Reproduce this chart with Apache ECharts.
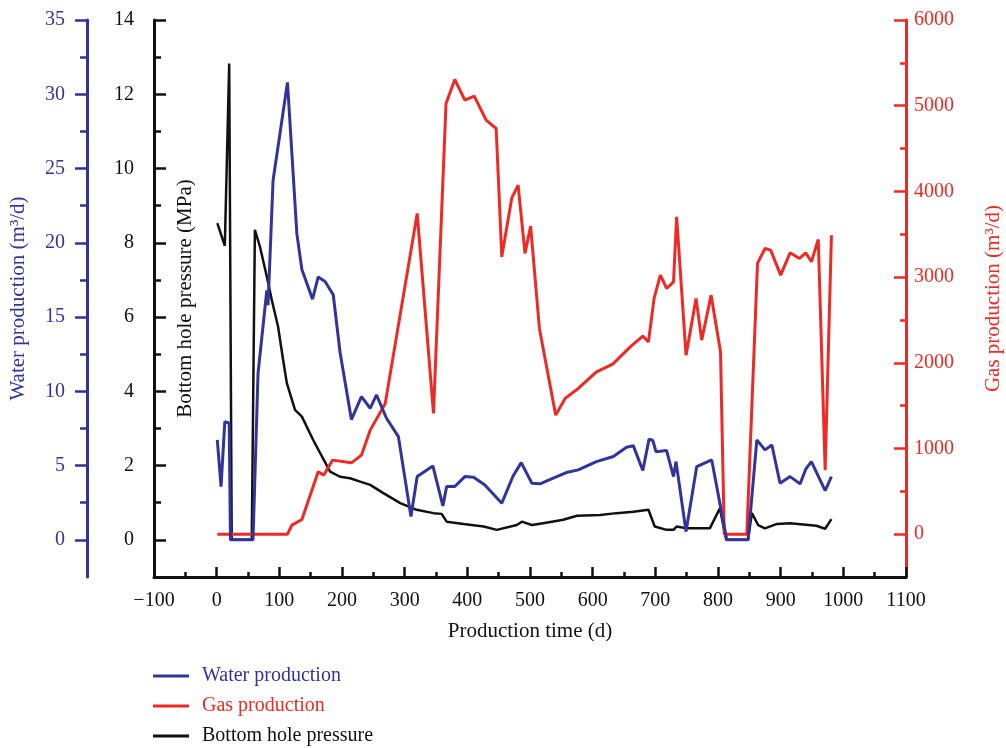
<!DOCTYPE html>
<html>
<head>
<meta charset="utf-8">
<script src="https://cdn.jsdelivr.net/npm/echarts@6/dist/echarts.min.js"></script>
<style>
  html, body { margin: 0; padding: 0; background: #ffffff; }
  #chart { width: 1006px; height: 748px; }
</style>
</head>
<body>
<div id="chart"></div>
<script>
// Production history of the well: water, gas and bottom hole pressure vs. time (d)
const waterDays   = [1, 7, 13, 20, 22, 58, 66, 80, 82, 90, 113, 128, 136, 153, 162, 173, 186, 197, 215, 231, 245, 255, 271, 290, 310, 320, 345, 361, 367, 380, 396, 410, 428, 455, 473, 486, 503, 516, 537, 558, 577, 606, 633, 654, 665, 680, 690, 696, 701, 718, 729, 733, 749, 766, 790, 814, 848, 862, 875, 886, 899, 915, 931, 940, 949, 971, 981];
const waterValues = [6.73, 3.59, 7.96, 7.85, 0, 0, 11.2, 16.8, 15.8, 24.2, 30.8, 20.6, 18.2, 16.2, 17.7, 17.4, 16.5, 12.6, 8.1, 9.65, 8.86, 9.76, 8.19, 6.95, 1.57, 4.26, 4.98, 2.29, 3.59, 3.59, 4.26, 4.22, 3.7, 2.47, 4.3, 5.2, 3.81, 3.77, 4.15, 4.53, 4.71, 5.27, 5.61, 6.24, 6.33, 4.67, 6.78, 6.69, 5.94, 6.01, 4.26, 5.27, 0.56, 4.93, 5.38, 0, 0, 6.73, 6.06, 6.39, 3.81, 4.26, 3.77, 4.76, 5.27, 3.32, 4.26];

const gasDays   = [1, 113, 120, 136, 162, 171, 185, 215, 231, 245, 269, 320, 346, 366, 380, 396, 411, 430, 446, 455, 471, 481, 492, 501, 515, 541, 556, 577, 606, 632, 660, 680, 689, 698, 708, 718, 729, 734, 749, 765, 774, 789, 804, 810, 846, 863, 875, 884, 900, 915, 930, 940, 949, 960, 971, 981];
const gasValues = [0, 0, 105, 171, 727, 689, 864, 832, 922, 1214, 1525, 3743, 1409, 5026, 5306, 5065, 5111, 4831, 4734, 3236, 3925, 4073, 3276, 3594, 2400, 1389, 1584, 1700, 1894, 1984, 2186, 2311, 2244, 2751, 3023, 2867, 2944, 3703, 2089, 2751, 2264, 2789, 2128, 0, 0, 3159, 3334, 3314, 3023, 3283, 3217, 3283, 3178, 3439, 747, 3489];

const pressureDays   = [1, 13, 20, 24, 56, 61, 69, 80, 88, 98, 106, 112, 125, 136, 154, 181, 197, 213, 229, 245, 266, 293, 319, 346, 359, 367, 394, 426, 447, 479, 487, 503, 521, 553, 575, 612, 638, 665, 689, 699, 718, 729, 734, 750, 787, 803, 813, 848, 854, 864, 875, 894, 915, 957, 971, 981];
const pressureValues = [8.53, 7.92, 12.83, 0, 0, 8.35, 7.9, 7.09, 6.46, 5.74, 4.85, 4.22, 3.5, 3.32, 2.69, 1.84, 1.7, 1.66, 1.57, 1.48, 1.26, 0.99, 0.81, 0.72, 0.7, 0.49, 0.43, 0.36, 0.27, 0.4, 0.49, 0.4, 0.45, 0.54, 0.65, 0.67, 0.72, 0.76, 0.81, 0.36, 0.27, 0.27, 0.36, 0.31, 0.31, 0.85, 0, 0, 0.72, 0.4, 0.31, 0.43, 0.45, 0.38, 0.3, 0.56];

// Tick marks on the three value axes
const waterMajorTicks    = [0, 5, 10, 15, 20, 25, 30, 35];
const waterMinorTicks    = [2.5, 7.5, 12.5, 17.5, 22.5, 27.5, 32.5];
const pressureMajorTicks = [0, 2, 4, 6, 8, 10, 12, 14];
const pressureMinorTicks = [1, 3, 5, 7, 9, 11, 13];
const gasMajorTicks      = [0, 1000, 2000, 3000, 4000, 5000, 6000];
const gasMinorTicks      = [500, 1500, 2500, 3500, 4500, 5500];

const BLUE = '#33349b';
const RED = '#ee2a24';
const BLACK = '#111111';
const FONT = 'Liberation Serif';

function pairs(xs, ys) { return xs.map((x, i) => [x, ys[i]]); }

// Plain numbers, with a true minus sign and no thousands separator
function plain(v) { return v < 0 ? '\u2212' + (-v) : String(v); }

function valueAxis(opts) {
  const base = {
    type: 'value',
    position: opts.position,
    offset: opts.offset || 0,
    min: opts.min,
    max: opts.max,
    splitLine: { show: false },
    axisLine: { show: !!opts.line, onZero: false, lineStyle: { color: opts.color, width: 3 } },
    axisTick: {
      show: true, inside: !!opts.inside, length: opts.tickLen,
      lineStyle: { color: opts.color, width: 2.5 },
      customValues: opts.ticks
    },
    axisLabel: opts.labels ? {
      show: true, color: opts.color, fontFamily: FONT, fontSize: 20,
      margin: opts.labelMargin, customValues: opts.ticks, hideOverlap: false,
      formatter: plain
    } : { show: false }
  };
  if (opts.name) {
    base.name = opts.name;
    base.nameLocation = 'middle';
    base.nameGap = opts.nameGap;
    base.nameMoveOverlap = false;
    base.nameTextStyle = { color: opts.color, fontFamily: FONT, fontSize: 21 };
  }
  return base;
}

const chart = echarts.init(document.getElementById('chart'), null, { renderer: 'canvas' });

chart.setOption({
  animation: false,
  backgroundColor: '#ffffff',
  grid: { left: 154, right: 100, top: 20, bottom: 171, outerBoundsMode: 'none' },
  legend: {
    orient: 'vertical',
    left: 153,
    top: 666,
    padding: 0,
    icon: 'rect',
    itemWidth: 36,
    itemHeight: 3,
    itemGap: 10,
    selectedMode: false,
    textStyle: { fontFamily: FONT, fontSize: 20, lineHeight: 20, padding: [0, 0, 0, 8] },
    data: [
      { name: 'Water production', textStyle: { color: BLUE } },
      { name: 'Gas production', textStyle: { color: RED } },
      { name: 'Bottom hole pressure', textStyle: { color: BLACK } }
    ]
  },
  xAxis: {
    type: 'value',
    min: -100,
    max: 1100,
    interval: 100,
    name: 'Production time (d)',
    nameLocation: 'middle',
    nameGap: 44,
    nameTextStyle: { color: BLACK, fontFamily: FONT, fontSize: 21 },
    axisLine: { onZero: false, lineStyle: { color: BLACK, width: 3 } },
    axisTick: { inside: true, length: 10, lineStyle: { color: BLACK, width: 2.5 } },
    minorTick: { show: true, splitNumber: 2, length: 5, lineStyle: { color: BLACK, width: 2.5 } },
    axisLabel: {
      color: BLACK, fontFamily: FONT, fontSize: 20, margin: 14, hideOverlap: false,
      formatter: plain
    },
    splitLine: { show: false }
  },
  yAxis: [
    valueAxis({ position: 'left', offset: 67, min: -2.5, max: 35, color: BLUE, line: true,
      ticks: waterMajorTicks, tickLen: 12, labels: true, labelMargin: 22,
      name: 'Water production (m\u00B3/d)', nameGap: 58 }),
    valueAxis({ position: 'left', offset: 67, min: -2.5, max: 35, color: BLUE,
      ticks: waterMinorTicks, tickLen: 7 }),
    valueAxis({ position: 'left', min: -1, max: 14, color: BLACK, line: true, inside: true,
      ticks: pressureMajorTicks, tickLen: 12, labels: true, labelMargin: 20,
      name: 'Bottom hole pressure (MPa)', nameGap: -42 }),
    valueAxis({ position: 'left', min: -1, max: 14, color: BLACK, inside: true,
      ticks: pressureMinorTicks, tickLen: 7 }),
    valueAxis({ position: 'right', min: -500, max: 6000, color: RED, line: true, inside: true,
      ticks: gasMajorTicks, tickLen: 12, labels: true, labelMargin: 8,
      name: 'Gas production (m\u00B3/d)', nameGap: 77 }),
    valueAxis({ position: 'right', min: -500, max: 6000, color: RED, inside: true,
      ticks: gasMinorTicks, tickLen: 6 })
  ],
  series: [
    {
      name: 'Bottom hole pressure', type: 'line', yAxisIndex: 2,
      data: pairs(pressureDays, pressureValues),
      symbol: 'none', lineStyle: { color: BLACK, width: 2.5 }, itemStyle: { color: BLACK }, z: 2
    },
    {
      name: 'Gas production', type: 'line', yAxisIndex: 4,
      data: pairs(gasDays, gasValues),
      symbol: 'none', lineStyle: { color: RED, width: 3 }, itemStyle: { color: RED }, z: 3
    },
    {
      name: 'Water production', type: 'line', yAxisIndex: 0,
      data: pairs(waterDays, waterValues),
      symbol: 'none', lineStyle: { color: BLUE, width: 3 }, itemStyle: { color: BLUE }, z: 4
    }
  ]
});
</script>
</body>
</html>
